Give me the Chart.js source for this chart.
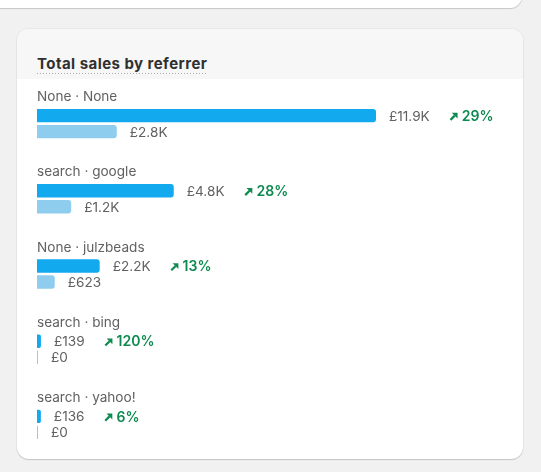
<!DOCTYPE html>
<html>
<head>
<meta charset="utf-8">
<script src="https://cdn.jsdelivr.net/npm/chart.js@4"></script>
<style>
  html, body { margin:0; padding:0; }
  body { width:541px; height:472px; background:#f1f1f1; overflow:hidden; position:relative; font-family: Inter, "Noto Sans", sans-serif; }
  .topcard { position:absolute; left:-14px; top:-20px; width:536px; height:28px; background:#fff; border-radius:12px;
    box-shadow: 0 1px 1px rgba(0,0,0,0.14), 0 0 0 1px rgba(0,0,0,0.04); }
  .card { position:absolute; left:17px; top:29px; width:506px; height:430px; background:#fff; border-radius:12px; overflow:hidden;
    box-shadow: 0 1px 1px rgba(0,0,0,0.16), 0 0 0 1px rgba(0,0,0,0.035); }
  .head { position:absolute; left:0; top:0; width:100%; height:50px; background:#f7f7f7; }
  .title { position:absolute; left:20px; top:25px; height:20px; line-height:20px; font-size:15px; letter-spacing:0.45px; font-weight:650; color:#303030;
    background-image: linear-gradient(to right, #a8a8a8 50%, transparent 0); background-size:3px 1px; background-repeat:repeat-x; background-position:0 19px; }
  .chartbox { position:absolute; left:37px; top:86px; width:468px; height:376px; }
</style>
</head>
<body>
<div class="topcard"></div>
<div class="card">
  <div class="head"><div class="title">Total sales by referrer</div></div>
</div>
<div class="chartbox"><canvas id="c"></canvas></div>
<script>
const categories = ['None · None', 'search · google', 'None · julzbeads', 'search · bing', 'search · yahoo!'];
const currentSales = [11900, 4800, 2200, 139, 136];
const previousSales = [2800, 1200, 623, 0, 0];
const changePct = [29, 28, 13, 120, 6];

function fmt(v) {
  if (v >= 1000) return '£' + (v / 1000).toFixed(1) + 'K';
  return '£' + v;
}

const labelPlugin = {
  id: 'rowLabels',
  afterDatasetsDraw(chart) {
    const ctx = chart.ctx;
    const ys = chart.scales.y;
    const left = chart.chartArea.left;
    ctx.save();
    ctx.font = '13.6px Inter';
    ctx.fillStyle = '#616161';
    ctx.textBaseline = 'alphabetic';
    ctx.textAlign = 'left';
    categories.forEach((c, i) => {
      ctx.fillText(c, left, ys.getPixelForValue(i) - 22.5);
    });
    const m0 = chart.getDatasetMeta(0);
    const m1 = chart.getDatasetMeta(1);
    ctx.textBaseline = 'middle';
    m0.data.forEach((bar, i) => {
      const tx = bar.x + 13;
      ctx.font = '13.6px Inter';
      ctx.fillStyle = '#616161';
      const t = fmt(currentSales[i]);
      ctx.fillText(t, tx, bar.y + 1);
      const w = ctx.measureText(t).width;
      const ax = tx + w + 20;
      const ay = bar.y - 3;
      ctx.strokeStyle = '#0c8a4f';
      ctx.fillStyle = '#0c8a4f';
      ctx.lineWidth = 2.2;
      ctx.beginPath();
      ctx.moveTo(ax + 0.7, ay + 7.3);
      ctx.lineTo(ax + 5, ay + 3);
      ctx.stroke();
      ctx.beginPath();
      ctx.moveTo(ax + 7.8, ay + 0.2);
      ctx.lineTo(ax + 2, ay + 0.2);
      ctx.lineTo(ax + 7.8, ay + 6);
      ctx.closePath();
      ctx.fill();
      ctx.font = '600 14px Inter';
      ctx.fillText(changePct[i] + '%', ax + 12, bar.y + 1);
    });
    m1.data.forEach((bar, i) => {
      ctx.font = '13.6px Inter';
      ctx.fillStyle = '#616161';
      ctx.fillText(fmt(previousSales[i]), bar.x + 13, bar.y + 1);
    });
    ctx.restore();
  }
};

function make() {
  new Chart(document.getElementById('c'), {
    type: 'bar',
    data: {
      labels: categories,
      datasets: [
        { data: currentSales, backgroundColor: '#13a9ef', borderRadius: 3, borderSkipped: 'start',
          barPercentage: 0.84, categoryPercentage: 0.4255 },
        { data: previousSales, backgroundColor: '#8ecdee', borderRadius: 3, borderSkipped: 'start',
          barPercentage: 0.84, categoryPercentage: 0.4255, minBarLength: 1 }
      ]
    },
    options: {
      indexAxis: 'y',
      responsive: true,
      maintainAspectRatio: false,
      animation: false,
      layout: { padding: { left: 0, right: 129, top: 0, bottom: 0 } },
      scales: {
        x: { display: false, min: 0, max: Math.max(...currentSales), grid: { display: false } },
        y: { display: false, grid: { display: false } }
      },
      plugins: { legend: { display: false }, tooltip: { enabled: false } }
    },
    plugins: [labelPlugin]
  });
}
if (document.fonts && document.fonts.load) {
  document.fonts.load('13px Inter').then(make, make);
} else { make(); }
</script>
</body>
</html>
